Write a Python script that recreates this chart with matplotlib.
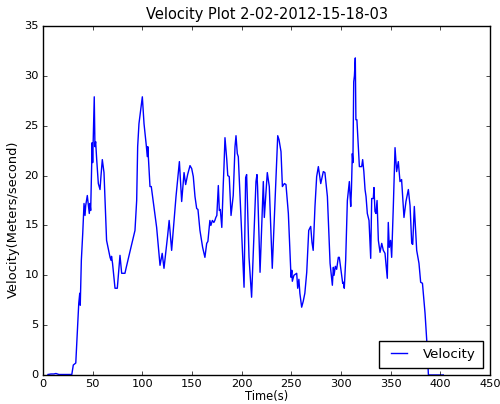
import matplotlib
matplotlib.use("Agg")
import matplotlib.pyplot as plt

plt.style.use('classic')

time_s = [5, 8, 11, 13, 16, 20, 25, 29, 30.5, 33, 34.5, 36, 37, 37.5, 38.6, 40, 41.3, 42.3, 43, 44.6,
          46.6, 47.3, 48, 49, 49.5, 50, 50.5, 51.6, 52.3, 53, 54, 55.7, 57.4, 58.4, 59.7, 61.4, 64, 67.5,
          68.5, 69, 70, 72.5, 74.8, 76.5, 77.5, 79.2, 82.5, 83.6, 86, 87.6, 92.6, 94.3, 95.3, 96.6, 100,
          101.7, 104, 105, 105.5, 107.7, 109, 114.4, 117.8, 120, 121.8, 125.5, 127, 129.5, 133.9, 137.3,
          139.6, 142, 143.6, 145.6, 148, 149.7, 151.3, 153, 154.7, 156, 158, 160.7, 163, 164.8, 166, 168,
          169, 170.5, 172, 173, 174, 175, 176.5, 177.5, 178.5, 180, 181.5, 182.2, 183.2, 185, 186, 187.5,
          189.3, 191.5, 193.3, 194.3, 195.6, 196.6, 202.4, 204, 205, 207.4, 210, 214.4, 215.4, 216, 218.5,
          221.8, 222.8, 225.8, 227.8, 230.8, 233.6, 236.3, 237.6, 239.6, 241, 243, 244.6, 247, 249.7,
          250.5, 251, 252.6, 255.4, 256.4, 257.6, 258.6, 260.4, 262, 263.6, 265.5, 267.5, 269.5, 270.8,
          272, 273.8, 275.5, 277.2, 279.6, 282.2, 283.8, 285.6, 286.3, 289, 291.3, 292.3, 293, 294.3,
          295.6, 297.3, 298.3, 299.6, 301.7, 302.3, 303.3, 304.7, 306.4, 308.4, 309, 309.8, 310.5, 311.4,
          312, 312.8, 313.5, 314.4, 315, 316, 318.5, 320.8, 321.8, 323, 324.2, 325.2, 326.5, 328.2, 329.9,
          330.9, 332.5, 333.2, 334.2, 335.2, 336.3, 337.6, 339.3, 341, 342.6, 344.3, 346.6, 347.6, 348.6,
          349.9, 351, 352.7, 354.4, 356, 357.7, 359.4, 361, 363.4, 365.4, 367.8, 369.5, 371.2, 372.2,
          373.8, 376.2, 378.5, 380.2, 382, 384.6, 386.3, 388, 403]
velocity = [0.05, 0.1, 0.1, 0.15, 0.05, 0.05, 0.05, 0.05, 1.0, 1.2, 4.2, 7.2, 8.2, 7.0, 11.5, 14.2, 17.2, 16.0, 17.0, 18.0,
            16.2, 17.2, 16.5, 20.9, 23.3, 21.3, 23.3, 27.9, 22.9, 23.4, 21.7, 19.2, 18.6, 20.0, 21.6, 20.3, 13.5, 11.8,
            11.5, 11.9, 11.2, 8.7, 8.7, 10.8, 12.0, 10.2, 10.2, 10.7, 11.7, 12.4, 14.5, 17.5, 22.9, 25.2, 27.9,
            25.2, 23.0, 21.9, 22.9, 18.9, 18.9, 14.8, 11.0, 12.2, 10.7, 14.0, 15.5, 12.5, 17.9, 21.4,
            17.4, 20.3, 19.1, 20.1, 21.0, 20.7, 19.9, 17.9, 16.7, 16.6, 14.5, 12.8, 11.8, 13.2, 13.4, 15.5,
            15.0, 15.5, 15.3, 15.5, 15.8, 16.0, 19.0, 16.5, 16.6, 14.8, 19.2, 20.9, 23.8, 21.6, 20.0, 19.9,
            16.0, 18.0, 22.9, 24.0, 22.2, 21.9, 8.8, 19.8, 20.1, 11.8, 7.8, 19.4, 20.1, 18.9, 10.3,
            19.4, 15.8, 20.3, 18.9, 10.7, 17.5, 24.0, 23.6, 22.4, 18.9, 19.2, 19.1, 16.2, 9.8,
            10.5, 9.4, 10.0, 10.2, 8.7, 9.6, 8.2, 6.8, 7.4, 8.2, 10.3, 14.5, 14.9, 13.3,
            12.5, 16.9, 19.9, 20.9, 19.2, 20.4, 20.3, 18.6, 17.9, 11.2, 9.0, 10.8, 10.0, 10.9,
            10.6, 11.8, 11.8, 10.8, 9.2, 9.3, 8.7, 11.5, 17.5, 19.4, 18.2, 16.9, 18.6, 22.2,
            21.3, 29.4, 30.0, 31.8, 25.6, 25.6, 20.9, 20.9, 21.6, 20.4, 18.6, 17.9, 16.2, 15.5, 11.7,
            17.7, 17.7, 18.8, 16.4, 16.2, 17.5, 13.5, 12.3, 13.2, 12.5, 12.2, 9.7, 15.3, 12.8,
            13.5, 11.8, 17.0, 22.8, 20.4, 21.4, 19.4, 19.6, 15.8, 17.4, 18.6, 17.0, 13.2, 13.1,
            16.9, 12.5, 11.2, 9.3, 9.2, 6.2, 3.5, 0.0, 0.0]

x_ticks = [0, 50, 100, 150, 200, 250, 300, 350, 400, 450]
y_ticks = [0, 5, 10, 15, 20, 25, 30, 35]

fig = plt.figure(figsize=(5.0, 4.04), dpi=100, facecolor='white')
ax = fig.add_axes([0.086, 0.0718, 0.894, 0.8638])
ax.plot(time_s, velocity, color='b', linewidth=1.0, label='Velocity')
ax.set_xlim(0, 450)
ax.set_ylim(0, 35)
ax.set_xticks(x_ticks)
ax.set_yticks(y_ticks)
ax.tick_params(labelsize=8.2, length=3, pad=3)
ax.set_title('Velocity Plot 2-02-2012-15-18-03', fontsize=10.5, pad=5)
ax.set_xlabel('Time(s)', fontsize=8.3, ha='center', va='center')
ax.xaxis.set_label_coords(0.5, -0.061)
ax.set_ylabel('Velocity(Meters/second)', fontsize=9.4, ha='center', va='center')
ax.yaxis.set_label_coords(-0.067, 0.447)
ax.legend(loc='lower right', fontsize=9.6, borderaxespad=0.5, borderpad=0.55,
          handlelength=1.8, handletextpad=0.95)
fig.savefig('out.png', dpi=100, facecolor='white')
